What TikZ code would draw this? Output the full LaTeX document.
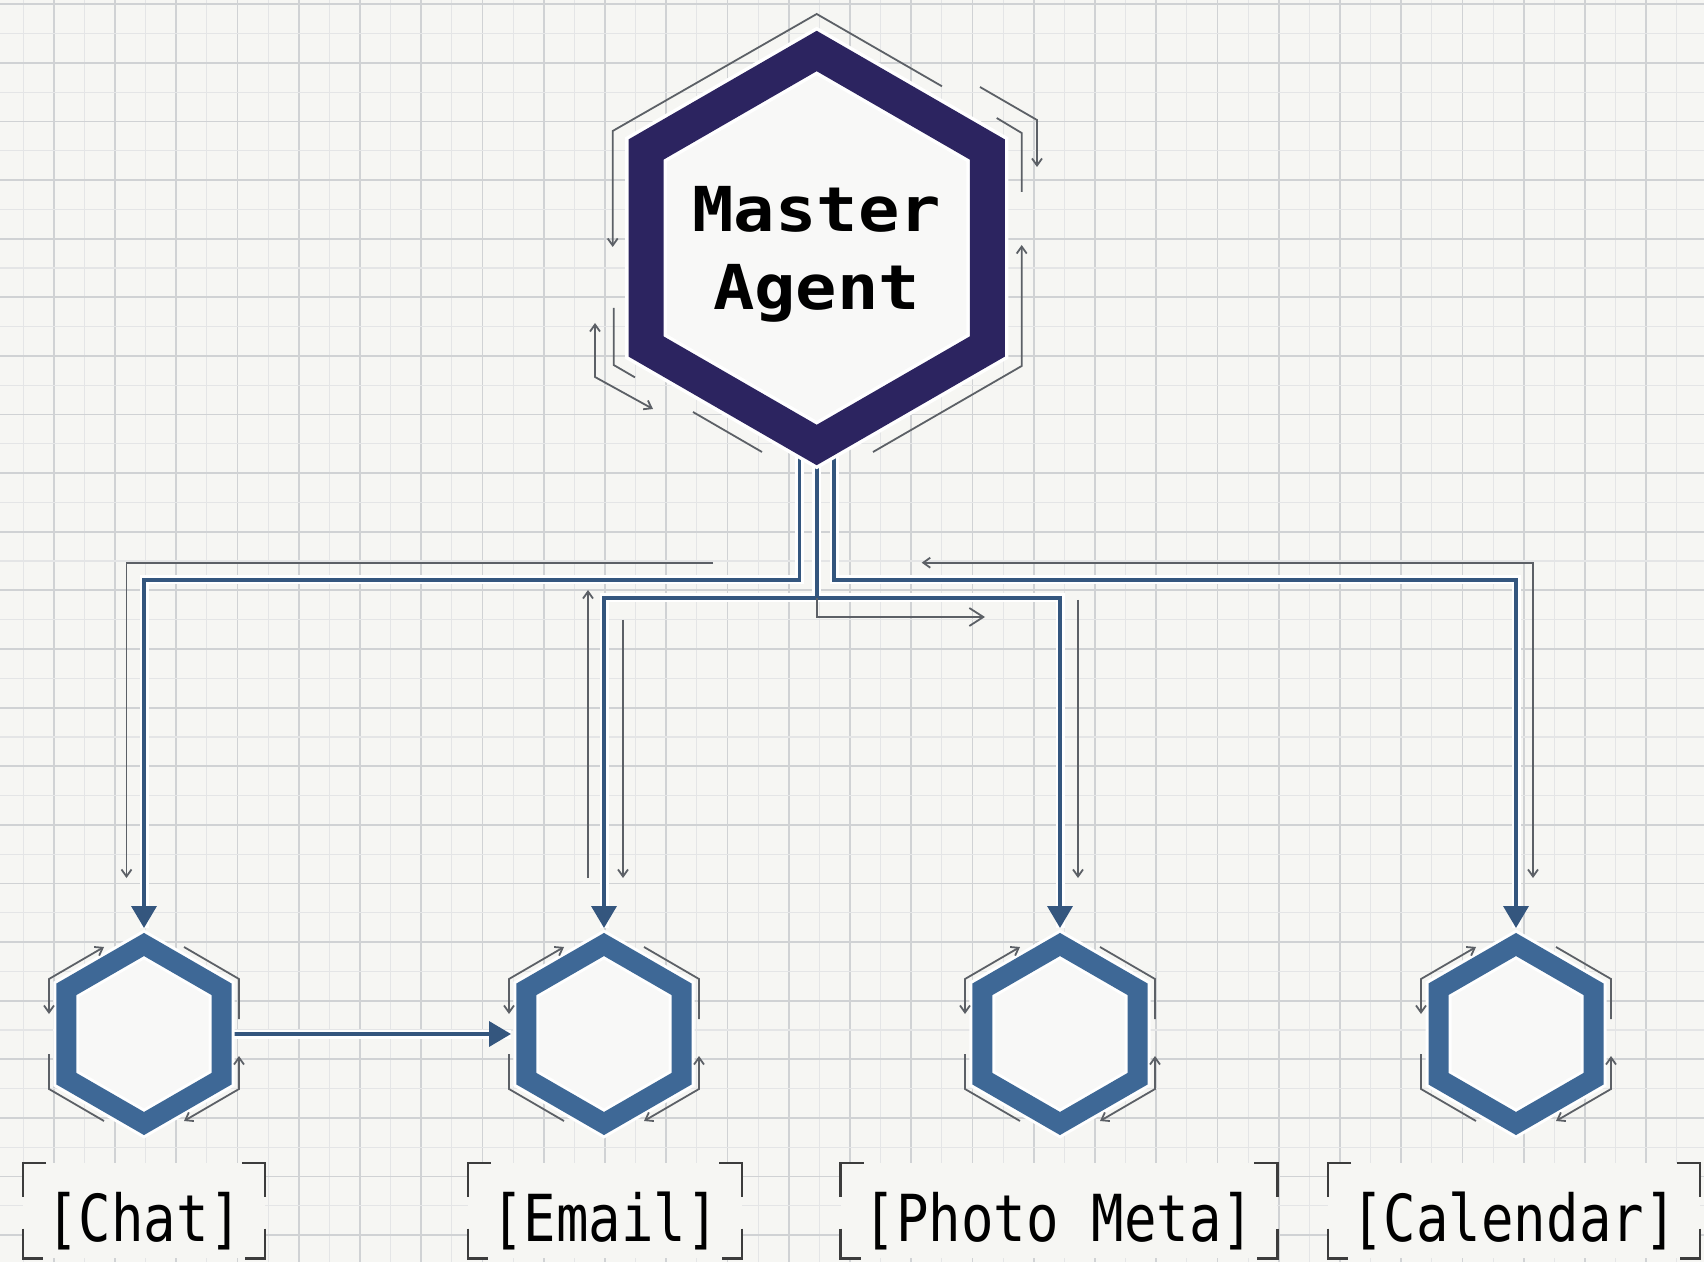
\documentclass[tikz,border=0pt]{standalone}
\usepackage{fontspec}
\setmonofont{DejaVu Sans Mono}
\usetikzlibrary{arrows.meta,calc}
\definecolor{bgc}{RGB}{246,246,243}
\definecolor{gridmaj}{RGB}{208,210,212}
\definecolor{gridmin}{RGB}{228,229,230}
\definecolor{indigo}{RGB}{44,36,96}
\definecolor{steel}{RGB}{62,104,150}
\definecolor{busc}{RGB}{52,86,126}
\definecolor{thinc}{RGB}{92,96,102}
\definecolor{hexin}{RGB}{248,248,247}
\definecolor{framec}{RGB}{60,60,60}
\tikzset{
  smtip/.tip={Straight Barb[length=3.5pt,width=5pt]},
  medtip/.tip={Straight Barb[length=7pt,width=9pt]},
  bigtip/.tip={Triangle[width=12.5pt,length=11pt]},
  gmaj/.style={draw=gridmaj,line width=0.9pt},
  gmin/.style={draw=gridmin,line width=0.6pt},
  halo/.style={draw=white,line width=4.5pt},
  busline/.style={draw=busc,line width=1.8pt,-bigtip},
  thinline/.style={draw=thinc,line width=0.9pt},
  lbl/.style={fill=bgc,font=\fontsize{27}{30}\selectfont\ttfamily,text=black,
    text height=39.3pt,text depth=8.2pt,inner ysep=0pt,inner xsep=11.5pt,anchor=base},
  framec/.style={draw=framec,line width=1.2pt},
}
\newcommand\hexpath[1]{(90:#1) -- (30:#1) -- (-30:#1) -- (-90:#1) -- (-150:#1) -- (150:#1) -- cycle}
\newcommand\agentcoords[3]{%
  \coordinate (#1) at (#2,#3);
  \coordinate (#1-top) at (#2,#3-106);
  \coordinate (#1-left) at (#2-93,#3);
  \coordinate (#1-right) at (#2+89,#3);}
\newcommand\agenthex[1]{%
  \begin{scope}[shift={(#1)}]
    \draw[white,line width=13pt,fill=hexin] \hexpath{89.5};
    \draw[steel,line width=10pt] \hexpath{89.5};
    \draw[thinline,smtip-smtip] (-95,-20) -- (-95,-55) -- (-40,-87);
    \draw[thinline] (40,-87) -- (95,-55) -- (95,-15);
    \draw[thinline,smtip-smtip] (95,22) -- (95,55) -- (40,87);
    \draw[thinline] (-95,20) -- (-95,55) -- (-40,87);
  \end{scope}}
\newcommand\brk[1]{%
  \draw[framec] ([xshift=11.5pt]#1.north west) -- (#1.north west) -- ([yshift=-17pt]#1.north west);
  \draw[framec] ([xshift=-11.5pt]#1.north east) -- (#1.north east) -- ([yshift=-17pt]#1.north east);
  \draw[framec] ([yshift=15pt]#1.south west) -- (#1.south west) -- ([xshift=10pt]#1.south west);
  \draw[framec] ([yshift=15pt]#1.south east) -- (#1.south east) -- ([xshift=-10pt]#1.south east);}
\newcommand\busroutes[1]{%
  \draw[#1] ($(master)+(-17.4,190)$) -- ++(0,142) -| (chat-top);
  \draw[#1] ($(master)+(17.4,190)$) -- ++(0,142) -| (cal-top);
  \draw[#1] ($(master)+(0,190)$) -- ++(0,160) -| (email-top);
  \draw[#1] ($(master)+(0,190)$) -- ++(0,160) -| (photo-top);
  \draw[#1] (chat-right) -- (email-left);}
\begin{document}
\begin{tikzpicture}[x=0.5pt,y=-0.5pt]
\useasboundingbox (0,0) rectangle (1704,1262);
\fill[bgc] (0,0) rectangle (1704,1262);
% grid
\foreach \i in {0,...,28} {
  \draw[gmin] ({-7.5+61.25*\i+30.6},0) -- ({-7.5+61.25*\i+30.6},1262);
  \draw[gmaj] ({-7.5+61.25*\i},0) -- ({-7.5+61.25*\i},1262);}
\foreach \j in {0,...,21} {
  \draw[gmin] (0,{4.4+58.6*\j+29.3}) -- (1704,{4.4+58.6*\j+29.3});
  \draw[gmaj] (0,{4.4+58.6*\j}) -- (1704,{4.4+58.6*\j});}
% coordinates
\coordinate (master) at (816.7,248);
\agentcoords{chat}{144}{1034}
\agentcoords{email}{604}{1034}
\agentcoords{photo}{1060}{1034}
\agentcoords{cal}{1516}{1034}
% connectors
\busroutes{halo}
\busroutes{busline}
% thin accompanying lines
\draw[thinline,-smtip] (713,562.7) -- (126.5,562.7) -- (126.5,878);
\draw[thinline,smtip-smtip] (921.7,562.7) -- (1533,562.7) -- (1533,878);
\draw[thinline,-smtip] (588,878) -- (588,590);
\draw[thinline,-smtip] (623,620) -- (623,878);
\draw[thinline,-smtip] (1078,600) -- (1078,878);
\draw[thinline,-medtip] ($(master)+(0,350)$) -- ++(0,19) -- (985,617);
% master
\begin{scope}[shift={(master)}]
  \draw[white,line width=21pt,fill=hexin] \hexpath{197};
  \draw[indigo,line width=17.5pt] \hexpath{197};
  \draw[thinline,-smtip] (125.3,-161.7) -- (0,-234) -- (-204,-117) -- (-204,-1);
  \draw[thinline,-smtip] (163.3,-161) -- (220.3,-128) -- (220.3,-81);
  \draw[thinline] (180,-130) -- (205,-115) -- (205,-56);
  \draw[thinline,-smtip] (56.3,204) -- (205,118) -- (205,-3);
  \draw[thinline] (-203,60) -- (-203,117) -- (-181.7,129.4);
  \draw[thinline,smtip-smtip] (-221.7,75) -- (-221.7,129) -- (-163.7,161);
  \draw[thinline] (-123.7,164) -- (-54.7,204);
\end{scope}
\node[font=\fontsize{34.4}{39}\selectfont\ttfamily\bfseries,align=center,inner sep=0pt]
  (mastertxt) at ($(master)+(0,6)$) {\scalebox{1}[0.9]{Master}\\\scalebox{1}[0.9]{Agent}};
% agents
\agenthex{chat}
\agenthex{email}
\agenthex{photo}
\agenthex{cal}
% labels
\node[lbl] (chatlbl) at (144,1241.7) {\scalebox{1}[1.2]{[Chat]}};
\node[lbl] (emaillbl) at (605,1241.7) {\scalebox{1}[1.2]{[Email]}};
\node[lbl] (photolbl) at (1059,1241.7) {\scalebox{1}[1.2]{[Photo Meta]}};
\node[lbl] (callbl) at (1514,1241.7) {\scalebox{1}[1.2]{[Calendar]}};
\brk{chatlbl}
\brk{emaillbl}
\brk{photolbl}
\brk{callbl}
\end{tikzpicture}
\end{document}
